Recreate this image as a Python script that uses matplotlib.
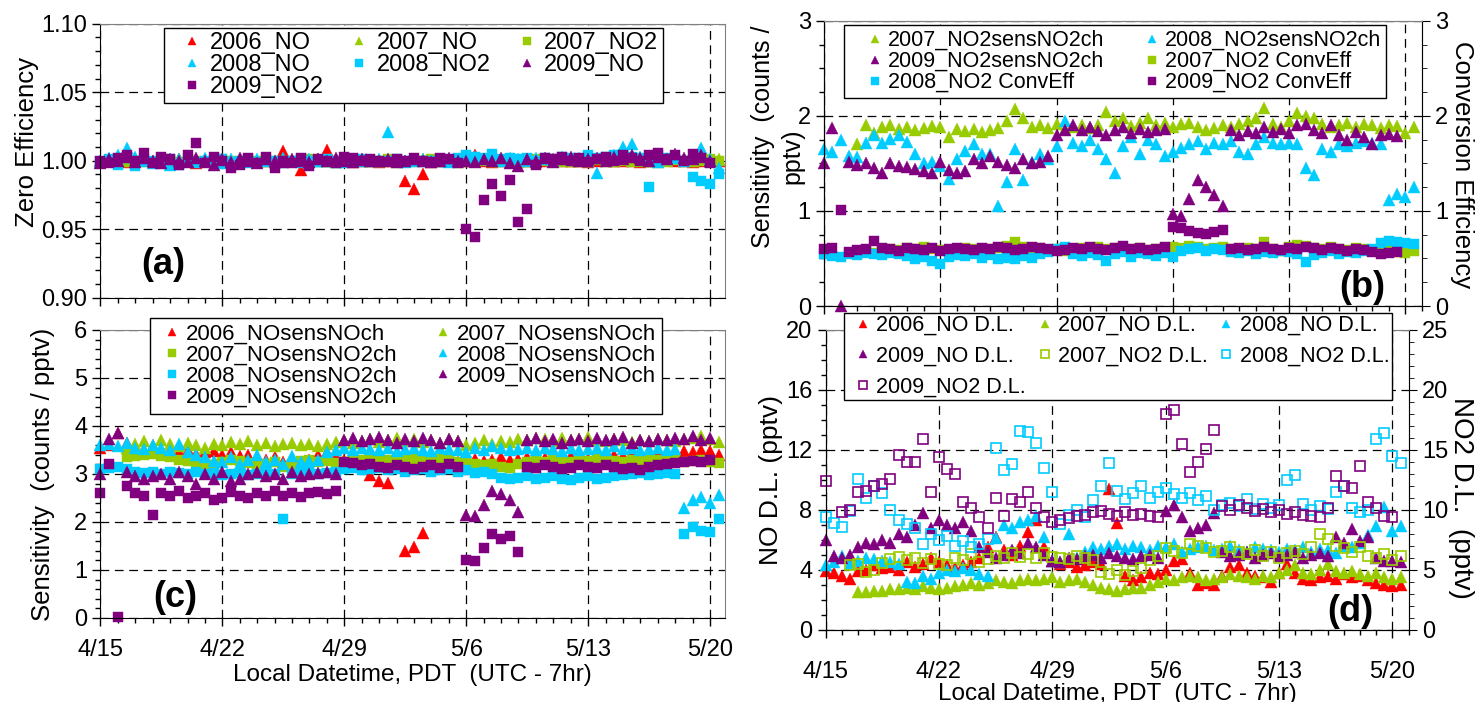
import numpy as np
import matplotlib
matplotlib.use("Agg")
import matplotlib.pyplot as plt
from matplotlib.ticker import MultipleLocator, FormatStrFormatter

n = np.nan

# 12-hourly samples, days since 4/15 00:00 PDT
days = np.arange(72) * 0.5
date_ticks = [0, 7, 14, 21, 28, 35]
date_labels = ["4/15", "4/22", "4/29", "5/6", "5/13", "5/20"]

# ---------------- (a) zero efficiency ----------------
a_2006_NO = [1.000, 1.001, 1.000, 0.999, 1.000, 1.001, 1.000, 0.999, 1.000, 1.001, 1.000, 0.998,
             1.000, 1.001, 1.000, 0.999, 1.000, 1.001, 1.000, 1.000, 0.999, 1.007, 1.000, 0.993,
             1.000, 1.001, 1.008, 1.000, 1.000, 0.999, 1.000, 1.000, 0.999, 1.000, 1.000, 0.985,
             0.979, 0.990, 0.999, 1.000, 1.000, 1.000, 1.000, 1.004, 1.000, 0.999, 1.000, 1.000,
             1.000, 1.000, 0.999, 1.000, 1.001, 1.000, 1.000, 1.000, 0.999, 1.000, 1.001, 1.000,
             1.000, 1.000, 0.999, 1.000, 1.000, 1.001, 1.000, 1.000, 0.999, 1.000, 1.000, 1.000]
a_2007_NO = [n, n, n, 1.000, 1.001, 1.000, 1.000, 0.999, 1.000, 1.001, 1.000, 1.000,
             1.000, 0.999, 1.000, 1.000, 1.001, 1.000, 1.000, 1.000, 0.999, 1.000, 1.000, 1.001,
             1.000, 1.000, 1.000, 0.999, 1.000, 1.000, 1.001, 1.000, 1.000, 1.000, 0.999, 1.000,
             1.000, 1.001, 1.000, 1.000, 1.000, 0.999, 1.000, 1.000, 1.001, 1.000, 1.000, 1.000,
             0.999, 1.000, 1.000, 1.001, 1.000, 1.000, 1.000, 1.000, 1.000, 1.001, 1.000, 1.000,
             1.001, 1.000, 1.000, 1.000, 0.999, 1.000, 1.001, 1.000, 1.000, 1.001, 1.000, 1.001]
a_2007_NO2 = [n, n, n, 0.999, 1.000, 1.001, 0.999, 1.000, 1.000, 0.999, 1.001, 1.000,
              0.999, 1.000, 1.001, 1.000, 0.999, 1.000, 1.000, 1.001, 1.000, 0.999, 1.000, 1.000,
              1.001, 1.000, 0.999, 1.000, 1.000, 1.001, 0.999, 1.000, 1.000, 1.001, 1.000, 0.999,
              1.000, 1.000, 1.001, 1.000, 0.999, 1.000, 1.001, 1.000, 1.000, 0.999, 1.000, 1.001,
              1.000, 0.999, 1.001, 1.000, 1.000, 1.001, 0.999, 1.000, 1.000, 1.001, 1.000, 0.999,
              1.000, 1.001, 1.000, 0.999, 1.000, 1.000, 1.001, 1.000, 0.999, 1.000, 1.001, 1.000]
a_2008_NO = [1.000, 1.002, 1.004, 1.009, 1.003, 1.001, 0.998, 1.000, 0.997, 1.001, 1.000, 0.999,
             1.002, 1.000, 0.998, 1.001, 1.000, 0.999, 1.001, 1.000, 1.000, 1.002, 1.000, 0.999,
             1.001, 1.000, 1.000, 0.999, 1.001, 1.000, 1.000, 1.000, 1.001, 1.021, 1.000, 0.999,
             1.000, 1.001, 1.000, 1.000, 0.999, 1.000, 1.002, 1.003, 1.001, 1.004, 1.000, 1.002,
             1.001, 1.000, 1.002, 1.001, 1.000, 1.003, 1.001, 1.002, 1.000, 0.991, 1.002, 1.004,
             1.010, 1.012, 1.003, 1.002, 0.999, 1.001, 1.003, 1.000, 1.002, 1.009, 1.001, 0.995]
a_2008_NO2 = [0.999, 1.001, 0.997, 1.002, 0.996, 0.999, 1.000, 0.998, 1.001, 0.997, 1.000, 0.999,
              1.000, 0.998, 1.001, 0.999, 1.000, 1.001, 0.999, 1.000, 1.000, 0.998, 1.000, 1.001,
              1.000, 0.999, 1.001, 1.000, 0.998, 1.000, 1.001, 1.000, 0.999, 1.000, 1.001, 1.000,
              1.000, 0.999, 1.000, 1.001, 1.000, 1.002, 1.004, 1.003, 1.002, 1.005, 1.001, 1.002,
              1.001, 1.002, 1.000, 1.002, 1.001, 1.003, 1.002, 1.001, 1.004, 1.002, 1.003, 1.004,
              1.005, 1.003, 1.002, 0.981, 1.004, 1.002, 1.001, 1.000, 0.988, 0.985, 0.983, 0.990]
a_2009_NO = [0.998, 1.001, 1.000, 1.003, 0.999, 1.002, 1.000, 0.998, 1.001, 1.000, 0.999, 1.002,
             1.000, 0.997, 1.001, 0.999, 1.002, 1.000, 0.998, 1.001, 1.000, 0.999, 1.001, 1.000,
             0.999, 1.001, 1.000, 1.002, 1.000, 0.999, 1.001, 1.000, 1.000, 1.001, 0.999, 1.000,
             1.001, 1.000, 0.999, 1.000, 1.002, 1.000, 1.000, 0.999, 1.001, 1.000, 1.002, 0.998,
             0.996, 1.001, 1.000, 1.002, 0.999, 1.001, 1.003, 1.000, 1.001, 1.002, 1.000, 1.003,
             1.001, 1.004, 1.002, 1.000, 1.003, 1.001, 1.005, 1.002, 1.001, 1.004, 1.000, n]
a_2009_NO2 = [1.000, 0.998, 1.002, 1.004, 1.000, 1.006, 0.998, 1.003, 1.001, 0.997, 1.004, 1.013,
              0.998, 1.003, 1.000, 0.995, 0.997, 1.002, 0.998, 1.003, 0.995, 1.000, 0.998, 1.002,
              0.996, 1.001, 1.000, 0.998, 1.003, 1.002, 1.000, 1.001, 1.000, 0.999, 1.001, 1.000,
              1.002, 1.000, 0.999, 1.002, 1.001, 0.998, 0.950, 0.944, 0.971, 0.983, 0.974, 0.986,
              0.955, 0.965, 0.997, 1.002, 1.001, 1.003, 1.000, 1.002, 0.999, 1.001, 1.003, 1.000,
              1.004, 1.002, 1.000, 1.004, 1.006, 1.001, 1.004, 1.000, 1.005, 1.002, 0.998, n]

# ---------------- (b) NO2 sensitivity / conversion efficiency ----------------
b_2007_sens = [n, n, n, n, 1.70, 1.90, 1.82, 1.88, 1.90, 1.86, 1.88, 1.85,
               1.87, 1.89, 1.88, 1.78, 1.86, 1.84, 1.86, 1.83, 1.85, 1.87, 1.95, 2.07,
               1.98, 1.88, 1.90, 1.87, 1.92, 1.86, 1.88, 1.90, 1.87, 1.91, 2.04, 1.95,
               1.98, 1.89, 1.93, 1.98, 1.90, 1.93, 1.88, 1.92, 1.93, 1.88, 1.85, 1.87,
               1.90, 1.88, 1.92, 1.95, 1.98, 2.08, 1.92, 1.88, 1.95, 2.03, 2.00, 1.98,
               1.92, 1.88, 1.90, 1.93, 1.88, 1.92, 1.90, 1.87, 1.90, 1.89, 1.82, 1.88]
b_2008_sens = [1.65, 1.62, 1.75, 1.58, 1.57, 1.72, 1.80, 1.72, 1.76, 1.80, 1.73, 1.60,
               1.50, 1.52, 1.47, 1.34, 1.55, 1.63, 1.70, 1.60, 1.60, 1.05, 1.30, 1.65,
               1.33, 1.52, 1.60, 1.55, 1.68, 1.95, 1.72, 1.68, 1.75, 1.65, 1.55, 1.40,
               1.68, 1.78, 1.60, 1.75, 1.70, 1.58, 1.62, 1.66, 1.70, 1.74, 1.65, 1.72,
               1.70, 1.74, 1.62, 1.60, 1.70, 1.78, 1.72, 1.70, 1.72, 1.70, 1.45, 1.38,
               1.65, 1.62, 1.70, 1.68, 1.72, 1.74, 1.72, 1.70, 1.12, 1.18, 1.15, 1.25]
b_2009_sens = [1.50, 1.87, 0.00, 1.52, 1.48, 1.50, 1.45, 1.40, 1.50, 1.47, 1.46, 1.44,
               1.42, 1.40, 1.52, 1.43, 1.40, 1.42, 1.55, 1.50, 1.58, 1.52, 1.48, 1.45,
               1.55, 1.50, 1.52, 1.58, 1.80, 1.85, 1.90, 1.85, 1.88, 1.84, 1.80, 1.85,
               1.88, 1.82, 1.86, 1.83, 1.85, 1.86, 0.97, 0.95, 1.13, 1.33, 1.25, 1.17,
               1.05, 1.85, 1.80, 1.84, 1.82, 1.88, 1.83, 1.86, 1.82, 1.90, 1.92, 1.85,
               1.82, 1.90, 1.80, 1.75, 1.83, 1.78, 1.70, 1.80, 1.81, 1.79, n, n]
b_2007_conv = [n, n, n, n, 0.55, 0.57, 0.56, 0.58, 0.60, 0.59, 0.61, 0.60,
               0.62, 0.60, 0.59, 0.58, 0.59, 0.61, 0.60, 0.58, 0.60, 0.61, 0.63, 0.67,
               0.62, 0.60, 0.61, 0.59, 0.60, 0.58, 0.59, 0.61, 0.60, 0.62, 0.60, 0.61,
               0.59, 0.60, 0.61, 0.59, 0.60, 0.61, 0.62, 0.61, 0.63, 0.62, 0.60, 0.61,
               0.62, 0.60, 0.59, 0.61, 0.60, 0.67, 0.60, 0.58, 0.62, 0.64, 0.63, 0.61,
               0.60, 0.62, 0.60, 0.59, 0.61, 0.60, 0.59, 0.60, 0.58, 0.57, 0.56, 0.58]
b_2008_conv = [0.55, 0.53, 0.52, 0.55, 0.54, 0.56, 0.55, 0.54, 0.56, 0.55, 0.53, 0.49,
               0.52, 0.47, 0.44, 0.52, 0.54, 0.53, 0.55, 0.51, 0.54, 0.49, 0.50, 0.49,
               0.53, 0.50, 0.55, 0.57, 0.60, 0.62, 0.55, 0.53, 0.56, 0.54, 0.47, 0.55,
               0.57, 0.52, 0.56, 0.55, 0.53, 0.56, 0.52, 0.58, 0.60, 0.61, 0.58, 0.60,
               0.59, 0.57, 0.56, 0.58, 0.55, 0.57, 0.56, 0.58, 0.57, 0.55, 0.46, 0.54,
               0.56, 0.58, 0.55, 0.57, 0.56, 0.58, 0.60, 0.66, 0.68, 0.67, 0.66, 0.65]
b_2009_conv = [0.60, 0.61, 1.01, 0.57, 0.59, 0.60, 0.68, 0.61, 0.60, 0.58, 0.61, 0.60,
               0.59, 0.61, 0.58, 0.60, 0.61, 0.60, 0.59, 0.61, 0.60, 0.62, 0.61, 0.59,
               0.60, 0.62, 0.61, 0.60, 0.58, 0.59, 0.61, 0.60, 0.62, 0.60, 0.59, 0.61,
               0.63, 0.60, 0.61, 0.59, 0.60, 0.62, 0.83, 0.82, 0.79, 0.77, 0.76, 0.78,
               0.80, 0.60, 0.61, 0.59, 0.60, 0.62, 0.60, 0.59, 0.61, 0.60, 0.62, 0.61,
               0.59, 0.61, 0.60, 0.58, 0.60, 0.59, 0.57, 0.55, 0.56, 0.57, n, n]

# ---------------- (c) NO sensitivity ----------------
c_2006_NOch = [3.55, 3.60, 3.85, 3.65, 3.55, 3.50, 3.55, 3.48, 3.50, 3.45, 3.50, 3.42,
               3.45, 3.48, 3.40, 3.45, 3.38, 3.40, 3.35, 3.30, 3.35, 3.25, 3.20, 3.25,
               3.30, 3.40, 3.45, 3.35, 3.30, 3.28, 3.20, 2.97, 2.86, 2.81, n, 1.40,
               1.47, 1.77, 3.25, 3.28, 3.30, 3.25, 3.30, 3.32, 3.28, 3.30, 3.35, 3.30,
               3.32, 3.35, 3.30, 3.33, 3.35, 3.30, 3.38, 3.35, 3.32, 3.38, 3.35, 3.40,
               3.38, 3.42, 3.40, 3.45, 3.42, 3.40, 3.45, 3.48, 3.45, 3.50, 3.48, 3.40]
c_2007_NOch = [n, n, n, 3.55, 3.62, 3.68, 3.60, 3.70, 3.62, 3.58, 3.65, 3.60,
               3.55, 3.62, 3.60, 3.66, 3.62, 3.68, 3.60, 3.64, 3.58, 3.62, 3.65, 3.60,
               3.63, 3.58, 3.62, 3.66, 3.70, 3.65, 3.68, 3.72, 3.66, 3.70, 3.75, 3.68,
               3.72, 3.66, 3.70, 3.65, 3.72, 3.68, 3.60, 3.65, 3.70, 3.62, 3.68, 3.66,
               3.72, 3.70, 3.75, 3.72, 3.68, 3.74, 3.70, 3.72, 3.76, 3.70, 3.68, 3.72,
               3.70, 3.66, 3.70, 3.68, 3.72, 3.70, 3.68, 3.72, 3.75, 3.80, 3.72, 3.66]
c_2007_NO2ch = [n, n, n, 3.35, 3.38, 3.40, 3.42, 3.38, 3.35, 3.30, 3.28, 3.25,
                3.20, 3.18, 3.25, 3.30, 3.28, 3.22, 3.18, 3.20, 3.25, 3.15, 3.20, 3.28,
                3.30, 3.25, 3.28, 3.22, 3.25, 3.28, 3.30, 3.32, 3.28, 3.30, 3.35, 3.30,
                3.32, 3.28, 3.30, 3.33, 3.30, 3.25, 3.22, 3.20, 3.18, 3.20, 3.15, 3.12,
                3.20, 3.25, 3.28, 3.25, 3.30, 3.28, 3.25, 3.30, 3.28, 3.32, 3.30, 3.28,
                3.25, 3.30, 3.28, 3.32, 3.30, 3.28, 3.30, 3.25, 3.28, 3.30, 3.25, 3.22]
c_2008_NOch = [3.60, 3.62, 3.58, 3.65, 3.55, 3.52, 3.60, 3.55, 3.50, 3.62, 3.45, 3.40,
               3.35, 3.28, 3.25, 3.35, 3.20, 3.30, 3.40, 3.25, 3.30, 3.20, 3.38, 3.25,
               3.28, 3.30, 3.45, 3.50, 3.55, 3.50, 3.55, 3.52, 3.50, 3.55, 3.48, 3.52,
               3.55, 3.50, 3.48, 3.55, 3.52, 3.50, 3.45, 3.55, 3.50, 3.58, 3.55, 3.50,
               3.52, 3.55, 3.50, 3.55, 3.52, 3.48, 3.55, 3.50, 3.52, 3.55, 3.50, 3.58,
               3.52, 3.55, 3.50, 3.52, 3.55, 3.50, 3.52, 2.30, 2.45, 2.52, 2.40, 2.57]
c_2008_NO2ch = [3.10, 3.12, 3.15, 3.10, 3.05, 3.02, 3.05, 3.00, 3.05, 3.02, 3.00, 3.05,
                3.00, 3.02, 2.98, 3.00, 3.02, 2.98, 3.00, 3.02, 3.00, 2.07, 3.00, 3.02,
                3.05, 3.00, 3.02, 3.05, 3.10, 3.12, 3.08, 3.10, 3.12, 3.08, 3.10, 3.05,
                3.08, 3.10, 3.05, 3.08, 3.10, 3.05, 3.08, 3.02, 3.05, 3.00, 2.92, 2.90,
                2.92, 2.95, 2.90, 2.92, 2.95, 2.90, 2.88, 2.92, 2.95, 2.90, 2.92, 2.95,
                2.98, 3.00, 3.02, 2.98, 3.00, 3.02, 3.00, 1.75, 1.90, 1.82, 1.80, 2.07]
c_2009_NOch = [3.00, 3.72, 3.85, 3.05, 2.95, 2.90, 2.95, 3.00, 2.90, 3.05, 2.95, 2.80,
               3.00, 2.90, 3.05, 2.85, 2.90, 3.00, 3.05, 2.95, 3.00, 2.90, 3.05, 2.95,
               3.00, 3.02, 3.05, 3.00, 3.70, 3.75, 3.68, 3.72, 3.78, 3.70, 3.65, 3.72,
               3.68, 3.75, 3.70, 3.65, 3.72, 3.68, 2.14, 2.12, 2.35, 2.65, 2.58, 2.45,
               2.20, 3.70, 3.75, 3.68, 3.72, 3.65, 3.70, 3.72, 3.68, 3.75, 3.70, 3.72,
               3.78, 3.65, 3.70, 3.68, 3.72, 3.70, 3.75, 3.72, 3.80, 3.70, 3.74, n]
c_2009_NO2ch = [2.60, 3.20, 0.02, 2.75, 2.60, 2.55, 2.15, 2.60, 2.55, 2.65, 2.50, 2.55,
                2.60, 2.45, 2.50, 2.62, 2.55, 2.50, 2.60, 2.55, 2.65, 2.55, 2.60, 2.52,
                2.60, 2.62, 2.58, 2.65, 3.25, 3.22, 3.18, 3.20, 3.15, 3.12, 3.18, 3.15,
                3.10, 3.15, 3.18, 3.12, 3.20, 3.15, 1.20, 1.18, 1.45, 1.75, 1.65, 1.70,
                1.38, 3.15, 3.12, 3.18, 3.15, 3.10, 3.12, 3.18, 3.15, 3.12, 3.18, 3.15,
                3.10, 3.12, 3.08, 3.15, 3.18, 3.20, 3.22, 3.25, 3.28, 3.25, 3.30, n]

# ---------------- (d) detection limits ----------------
d_2006_NO = [3.9, 3.8, 3.6, 3.4, 3.9, 4.0, 4.3, 4.1, 4.2, 4.0, 4.5, 4.2,
             4.4, 4.8, 4.5, 4.3, 4.1, 4.3, 4.5, 4.8, 5.5, 6.2, 5.3, 5.0,
             5.6, 6.5, 7.3, 5.5, 4.6, 4.4, 4.5, 4.2, 4.3, 4.5, 4.4, 9.4,
             7.1, 3.6, 3.3, 3.5, 3.8, 3.7, 4.0, 4.6, 4.7, 3.8, 3.0, 3.1,
             3.0, 3.6, 4.2, 4.3, 3.8, 3.6, 3.5, 3.2, 3.8, 4.4, 3.8, 3.4,
             3.3, 3.5, 3.6, 3.4, 3.7, 3.5, 3.6, 3.3, 3.1, 3.0, 2.9, 3.0]
d_2007_NO = [n, n, n, n, 2.5, 2.5, 2.6, 2.6, 2.7, 2.7, 2.8, 2.7,
             2.9, 2.8, 2.7, 2.8, 2.9, 3.0, 3.1, 3.0, 3.1, 3.3, 3.2, 3.1,
             3.3, 3.4, 3.3, 3.4, 3.5, 3.2, 3.3, 3.4, 3.2, 3.0, 2.8, 2.7,
             2.6, 2.7, 2.8, 2.8, 3.0, 3.2, 3.4, 3.3, 3.5, 3.6, 3.5, 3.3,
             3.4, 3.5, 3.7, 3.6, 3.5, 3.4, 3.6, 3.5, 3.8, 4.0, 4.3, 3.8,
             3.7, 4.0, 4.4, 3.9, 3.8, 3.9, 3.7, 3.6, 3.8, 3.5, 3.4, 3.5]
d_2008_NO = [4.3, 4.5, 4.9, 4.4, 4.6, 4.8, 4.7, 4.6, 4.5, 4.4, 3.2, 3.1,
             3.6, 3.4, 3.8, 4.0, 3.9, 4.1, 4.0, 3.7, 3.6, 6.1, 7.0, 6.8,
             7.2, 7.3, 7.6, 6.2, 4.6, 4.5, 6.4, 4.8, 5.2, 5.5, 5.4, 5.6,
             5.7, 5.4, 5.6, 5.5, 5.3, 5.6, 5.5, 5.7, 5.2, 5.4, 5.5, 5.6,
             5.3, 5.4, 5.6, 5.3, 5.2, 5.5, 5.4, 5.3, 5.2, 5.4, 5.3, 5.5,
             5.2, 5.4, 5.3, 5.1, 5.6, 5.5, 5.8, 6.3, 6.9, 8.2, 6.6, 6.9]
d_2009_NO = [6.0, 4.9, 4.8, 5.0, 5.5, 5.8, 5.7, 6.0, 5.8, 6.4, 6.2, 7.0,
             7.8, 6.8, 7.3, 7.0, 6.8, 7.2, 6.6, 5.5, 5.2, 4.8, 5.0, 5.3,
             5.1, 5.8, 5.5, 5.0, 4.6, 4.5, 4.8, 4.7, 4.9, 5.0, 4.8, 5.1,
             4.9, 4.8, 4.7, 4.9, 5.0, 4.8, 7.9, 8.3, 7.5, 6.6, 6.8, 7.0,
             7.8, 5.2, 4.9, 5.0, 5.2, 4.8, 5.0, 5.1, 4.9, 5.0, 5.2, 4.8,
             5.0, 5.1, 4.9, 6.2, 5.8, 6.7, 5.9, 6.2, 4.8, 4.6, 4.6, 4.5]
# NO2 detection limits, right axis (pptv)
d_2007_NO2 = [n, n, n, 5.4, 5.5, 4.8, 5.0, 5.6, 5.9, 6.1, 5.8, 6.0,
              5.6, 5.9, 5.5, 5.4, 6.0, 5.8, 6.3, 5.7, 5.9, 6.2, 6.0, 6.4,
              6.1, 6.3, 6.0, 6.4, 6.1, 6.0, 5.9, 6.2, 6.0, 5.8, 4.8, 4.7,
              5.0, 4.6, 4.9, 5.2, 5.8, 6.2, 6.8, 6.6, 6.4, 7.2, 7.0, 6.8,
              6.5, 6.6, 6.9, 6.5, 6.3, 6.7, 6.2, 6.5, 6.0, 6.4, 6.6, 6.3,
              6.9, 8.0, 7.6, 7.0, 6.8, 6.5, 6.9, 6.2, 6.0, 6.3, 5.8, 6.2]
d_2008_NO2 = [9.4, 8.9, 8.6, 9.9, 12.6, 11.0, 12.0, 11.4, 10.0, 9.2, 8.8, 8.5,
              7.2, 8.0, 7.5, 7.8, 7.0, 7.4, 6.9, 7.2, 7.6, 15.2, 13.3, 13.8,
              16.6, 16.5, 15.6, 13.5, 11.5, 8.8, 9.6, 10.0, 9.4, 10.8, 12.0, 13.9,
              11.6, 10.9, 11.4, 12.0, 11.0, 11.5, 11.8, 11.3, 11.0, 11.4, 10.8, 11.2,
              10.0, 10.4, 10.6, 10.3, 10.9, 10.1, 10.5, 10.2, 10.4, 12.5, 12.9, 10.5,
              10.0, 10.3, 10.1, 11.5, 12.0, 10.2, 9.8, 10.0, 15.9, 16.4, 14.5, 13.9]
d_2009_NO2 = [12.4, n, 9.8, 10.0, 11.5, 11.6, 12.0, 12.2, 12.6, 14.6, 14.0, 14.0,
              15.9, 11.5, 14.4, 13.4, 13.0, 10.7, 10.2, 9.4, 8.5, 11.0, 9.5, 10.9,
              10.7, 11.5, 10.2, 9.4, 9.0, 9.2, 9.3, 9.5, 9.6, 9.8, 9.9, 9.7,
              9.5, 9.8, 9.6, 9.7, 9.5, 9.4, 18.0, 18.3, 15.5, 13.2, 14.0, 15.1,
              16.7, 10.3, 10.0, 10.4, 10.2, 9.9, 10.1, 9.8, 10.0, 9.7, 9.8, 9.6,
              9.5, 9.4, 10.2, 12.8, 12.0, 11.8, 13.7, 10.7, 10.2, 9.5, 9.4, n]

RED, GREEN, CYAN, PURPLE = "#FF0000", "#99CC00", "#00CCFF", "#800080"

plt.rcParams["font.family"] = ["Liberation Sans", "DejaVu Sans"]
TICK_FS = 17

fig = plt.figure(figsize=(14.77, 7.02), dpi=100)
ax_a = fig.add_axes([0.0680, 0.5759, 0.4228, 0.3903])
ax_c = fig.add_axes([0.0680, 0.1197, 0.4228, 0.4103])
ax_b = fig.add_axes([0.5579, 0.5641, 0.4049, 0.4060])
ax_d = fig.add_axes([0.5590, 0.1026, 0.3947, 0.4274])


def pts(ax, y, color, marker, label, hollow=False):
    ms = 8 if marker == "^" else 7
    if hollow:
        return ax.plot(days, y, ls="none", marker=marker, ms=7.5, mfc="none", mec=color,
                       mew=1.2, label=label, clip_on=False)[0]
    return ax.plot(days, y, ls="none", marker=marker, ms=ms, color=color, mec=color,
                   mew=0.3, label=label, clip_on=False)[0]


def style(ax, ylim, ymaj, ymin, xmax, xpad=None, xlabpad=2):
    ax.set_xlim(0, xmax)
    ax.set_ylim(*ylim)
    ax.set_xticks(date_ticks)
    ax.xaxis.set_minor_locator(MultipleLocator(1))
    ax.yaxis.set_major_locator(MultipleLocator(ymaj))
    ax.yaxis.set_minor_locator(MultipleLocator(ymin))
    ax.grid(True, which="major", color="black", ls=(0, (7, 4.5)), lw=0.9)
    ax.set_axisbelow(True)
    ax.tick_params(which="both", direction="out", labelsize=TICK_FS, width=1)
    ax.tick_params(which="major", length=6)
    ax.tick_params(which="minor", length=3.5)
    if xpad is not None:
        ax.set_xticklabels(date_labels)
        ax.tick_params(axis="x", pad=xpad)
        ax.set_xlabel("Local Datetime, PDT  (UTC - 7hr)", fontsize=17.5, labelpad=xlabpad)
    else:
        ax.tick_params(axis="x", labelbottom=False)
    ax.spines["top"].set_color("#808080")
    ax.spines["right"].set_color("#808080")


def right_axis(ax, ylim, ymaj, ymin, label, fs, lx, ly):
    tw = ax.twinx()
    tw.set_ylim(*ylim)
    tw.yaxis.set_major_locator(MultipleLocator(ymaj))
    tw.yaxis.set_minor_locator(MultipleLocator(ymin))
    tw.tick_params(axis="y", which="both", direction="out", labelsize=TICK_FS)
    tw.tick_params(axis="y", which="major", length=6)
    tw.tick_params(axis="y", which="minor", length=3.5)
    tw.spines["right"].set_color("black")
    tw.spines["top"].set_color("#808080")
    tw.set_ylabel(label, fontsize=fs, rotation=-90)
    tw.yaxis.set_label_coords(lx, ly)
    tw.yaxis.label.set_va("center")
    tw.yaxis.label.set_ha("center")
    return tw


def ylab(ax, text, fs, lx, ly):
    ax.set_ylabel(text, fontsize=fs)
    ax.yaxis.set_label_coords(lx, ly)
    ax.yaxis.label.set_va("center")


def legend(handles, ncol, anchor, fs, bp, hl, htp, cs, ls):
    return fig.legend(handles=handles, ncol=ncol, loc="upper left", bbox_to_anchor=anchor,
                      bbox_transform=fig.transFigure, fontsize=fs, frameon=True,
                      fancybox=False, edgecolor="black", framealpha=1, borderpad=bp,
                      borderaxespad=0, handlelength=hl, handletextpad=htp,
                      columnspacing=cs, labelspacing=ls, markerscale=0.8)


# ---- panel (a)
h = {}
h["06"] = pts(ax_a, a_2006_NO, RED, "^", "2006_NO")
h["07"] = pts(ax_a, a_2007_NO, GREEN, "^", "2007_NO")
h["07s"] = pts(ax_a, a_2007_NO2, GREEN, "s", "2007_NO2")
h["08"] = pts(ax_a, a_2008_NO, CYAN, "^", "2008_NO")
h["08s"] = pts(ax_a, a_2008_NO2, CYAN, "s", "2008_NO2")
h["09"] = pts(ax_a, a_2009_NO, PURPLE, "^", "2009_NO")
h["09s"] = pts(ax_a, a_2009_NO2, PURPLE, "s", "2009_NO2")
style(ax_a, (0.90, 1.10), 0.05, 0.01, 35.85)
ax_a.yaxis.set_major_formatter(FormatStrFormatter("%.2f"))
ylab(ax_a, "Zero Efficiency", 18.5, -0.118, 0.57)
ax_a.text(0.10, 0.12, "(a)", transform=ax_a.transAxes, fontsize=26, fontweight="bold",
          ha="center", va="center")
legend([h["06"], h["08"], h["09s"], h["07"], h["08s"], h["07s"], h["09"]], 3,
       (0.1110, 0.9605), 17, 0.2, 2.0, -0.25, 0.5, 0.0)

# ---- panel (b)
tw_b = right_axis(ax_b, (0, 3), 1, 0.25, "Conversion Efficiency", 18.5, 1.066, 0.495)
hb = {}
hb["07"] = pts(ax_b, b_2007_sens, GREEN, "^", "2007_NO2sensNO2ch")
hb["08"] = pts(ax_b, b_2008_sens, CYAN, "^", "2008_NO2sensNO2ch")
hb["09"] = pts(ax_b, b_2009_sens, PURPLE, "^", "2009_NO2sensNO2ch")
hb["07s"] = pts(tw_b, b_2007_conv, GREEN, "s", "2007_NO2 ConvEff")
hb["08s"] = pts(tw_b, b_2008_conv, CYAN, "s", "2008_NO2 ConvEff")
hb["09s"] = pts(tw_b, b_2009_conv, PURPLE, "s", "2009_NO2 ConvEff")
style(ax_b, (0, 3), 1, 0.25, 36.0)
ax_b.text(-0.102, 0.593, "Sensitivity  (counts /", transform=ax_b.transAxes, fontsize=18,
          rotation=90, ha="center", va="center")
ax_b.text(-0.052, 0.526, "pptv)", transform=ax_b.transAxes, fontsize=18,
          rotation=90, ha="center", va="center")
ax_b.text(0.90, 0.065, "(b)", transform=ax_b.transAxes, fontsize=26, fontweight="bold",
          ha="center", va="center")
legend([hb["07"], hb["09"], hb["08s"], hb["08"], hb["07s"], hb["09s"]], 2,
       (0.5714, 0.9644), 15.5, 0.24, 2.4, -0.6, 1.0, 0.0)

# ---- panel (c)
hc = {}
hc["06"] = pts(ax_c, c_2006_NOch, RED, "^", "2006_NOsensNOch")
hc["07"] = pts(ax_c, c_2007_NOch, GREEN, "^", "2007_NOsensNOch")
hc["07s"] = pts(ax_c, c_2007_NO2ch, GREEN, "s", "2007_NOsensNO2ch")
hc["08"] = pts(ax_c, c_2008_NOch, CYAN, "^", "2008_NOsensNOch")
hc["08s"] = pts(ax_c, c_2008_NO2ch, CYAN, "s", "2008_NOsensNO2ch")
hc["09"] = pts(ax_c, c_2009_NOch, PURPLE, "^", "2009_NOsensNOch")
hc["09s"] = pts(ax_c, c_2009_NO2ch, PURPLE, "s", "2009_NOsensNO2ch")
style(ax_c, (0, 6), 1, 0.2, 35.85, xpad=9)
ylab(ax_c, "Sensitivity  (counts / pptv)", 18.5, -0.092, 0.5)
ax_c.text(0.12, 0.07, "(c)", transform=ax_c.transAxes, fontsize=26, fontweight="bold",
          ha="center", va="center")
legend([hc["06"], hc["07s"], hc["08s"], hc["09s"], hc["07"], hc["08"], hc["09"]], 2,
       (0.1016, 0.547), 16, 0.27, 1.44, -0.09, 1.3, 0.0)

# ---- panel (d)
tw_d = right_axis(ax_d, (0, 25), 5, 1, "NO2 D.L.  (pptv)", 20, 1.09, 0.44)
hd = {}
hd["06"] = pts(ax_d, d_2006_NO, RED, "^", "2006_NO D.L.")
hd["07"] = pts(ax_d, d_2007_NO, GREEN, "^", "2007_NO D.L.")
hd["08"] = pts(ax_d, d_2008_NO, CYAN, "^", "2008_NO D.L.")
hd["09"] = pts(ax_d, d_2009_NO, PURPLE, "^", "2009_NO D.L.")
hd["07s"] = pts(tw_d, d_2007_NO2, GREEN, "s", "2007_NO2 D.L.", hollow=True)
hd["08s"] = pts(tw_d, d_2008_NO2, CYAN, "s", "2008_NO2 D.L.", hollow=True)
hd["09s"] = pts(tw_d, d_2009_NO2, PURPLE, "s", "2009_NO2 D.L.", hollow=True)
style(ax_d, (0, 20), 4, 1, 36.0, xpad=16, xlabpad=0)
ylab(ax_d, "NO D.L. (pptv)", 19, -0.094, 0.5)
ax_d.text(0.90, 0.06, "(d)", transform=ax_d.transAxes, fontsize=26, fontweight="bold",
          ha="center", va="center")
legend([hd["06"], hd["09"], hd["09s"], hd["07"], hd["07s"], hd["08"], hd["08s"]], 3,
       (0.5714, 0.5541), 15.5, 0.1, 1.54, -0.15, 0.1, 0.45)

fig.savefig("out.png", dpi=100)
